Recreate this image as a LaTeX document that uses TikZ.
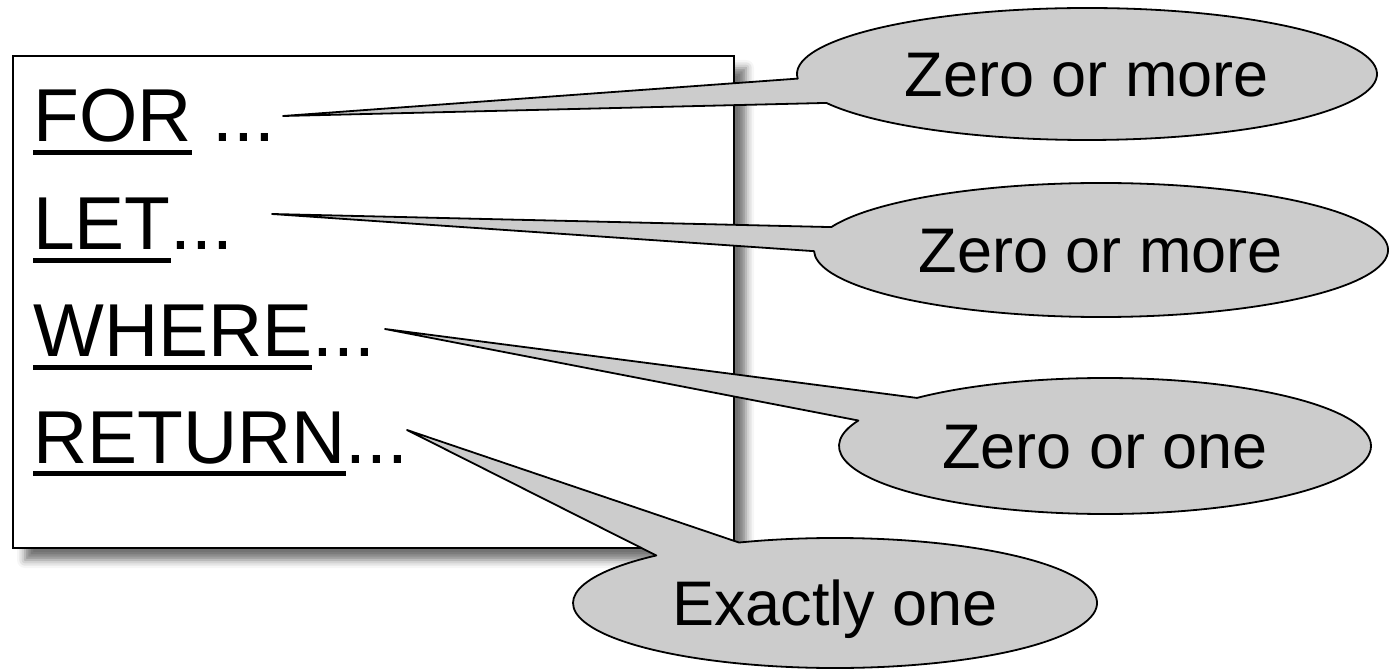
\documentclass[tikz,border=0pt]{standalone}
\usepackage{fontspec}
\setmainfont{Liberation Sans}
\usetikzlibrary{calc,shadows.blur}
\definecolor{bubblegray}{RGB}{204,204,204}
\newcommand\kwline[1]{\setbox0\hbox{#1}\rlap{\rule[-13pt]{\wd0}{5pt}}\box0\relax}
\begin{document}
\begin{tikzpicture}[x=1pt,y=1pt,
  codeline/.style={anchor=base west, inner sep=0pt, font=\fontsize{75}{90}\selectfont},
  bubble/.style={fill=bubblegray, draw=black, line width=1.8pt, line join=round},
  bubbletext/.style={anchor=base, inner sep=0pt, font=\fontsize{63}{76}\selectfont},
  codebox/.style={draw=black, line width=2.5pt, fill=white, inner sep=0pt,
    blur shadow={shadow xshift=12pt, shadow yshift=-12pt, shadow blur radius=8pt, shadow opacity=55}}]
\useasboundingbox (0,0) rectangle (1394,670);
% code box
\node[codebox, minimum width=721pt, minimum height=492pt] (box) at (373.5,368) {};
% code lines
\node[codeline] (lfor) at (33,528) {\kwline{FOR} ...};
\node[codeline] (llet) at (33,420) {\kwline{LET}...};
\node[codeline] (lwhere) at (33,313) {\kwline{WHERE}...};
\node[codeline] (lreturn) at (33,207) {\kwline{RETURN}...};
% callout tips and centres
\coordinate (tfor) at (283,554);
\coordinate (tlet) at (272,456);
\coordinate (twhere) at (385,341);
\coordinate (treturn) at (407,240);
\coordinate (c1) at (1087,596);
\coordinate (c2) at (1101,420);
\coordinate (c3) at (1105,224);
\coordinate (c4) at (835,67);
% callouts
\draw[bubble] (tfor) -- ($(c1)+(184:290 and 66)$) arc[start angle=184, end angle=-154, x radius=290, y radius=66] -- cycle;
\draw[bubble] (tlet) -- ($(c2)+(160:287 and 67)$) arc[start angle=160, end angle=-179, x radius=287, y radius=67] -- cycle;
\draw[bubble] (twhere) -- ($(c3)+(135:266 and 68)$) arc[start angle=135, end angle=-202, x radius=266, y radius=68] -- cycle;
\draw[bubble] (treturn) -- ($(c4)+(111.5:262 and 65)$) arc[start angle=111.5, end angle=-227, x radius=262, y radius=65] -- cycle;
\node[bubbletext] (n1) at ($(c1)+(0,-22.5)$) {Zero or more};
\node[bubbletext] (n2) at ($(c2)+(0,-22.5)$) {Zero or more};
\node[bubbletext] (n3) at ($(c3)+(0,-22.5)$) {Zero or one};
\node[bubbletext] (n4) at ($(c4)+(0,-22.5)$) {Exactly one};
\end{tikzpicture}
\end{document}
